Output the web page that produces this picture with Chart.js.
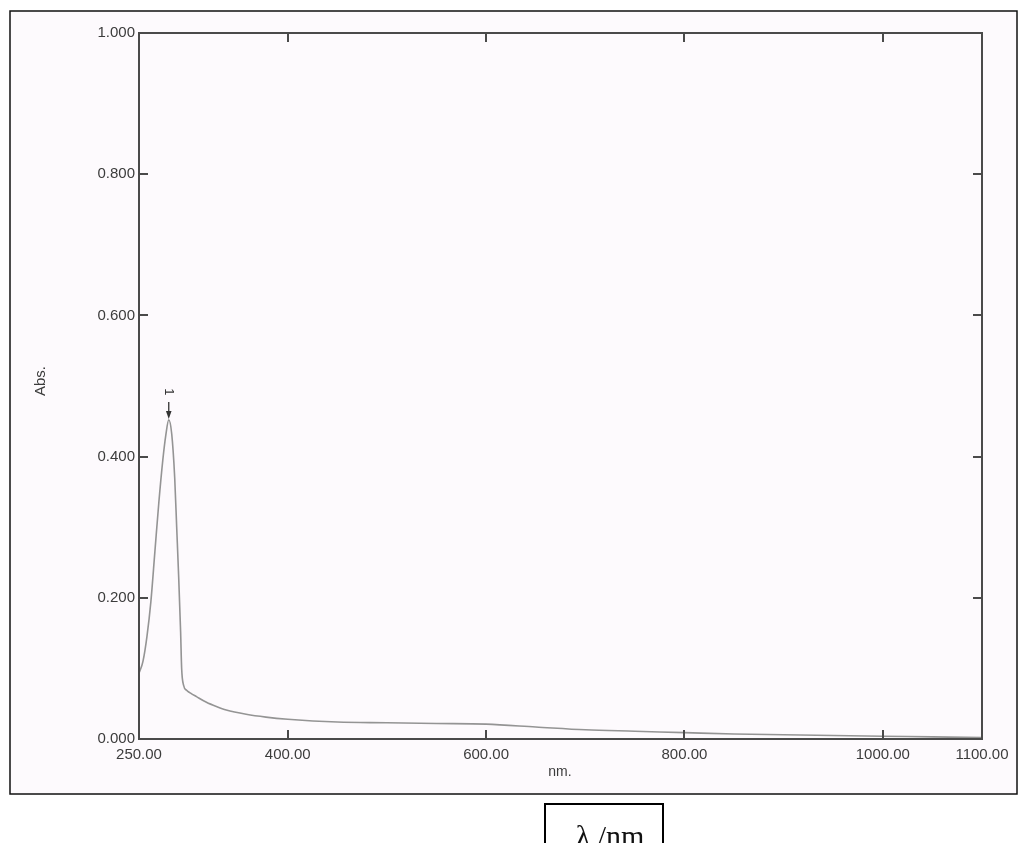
<!DOCTYPE html>
<html>
<head>
<meta charset="utf-8">
<script src="https://cdn.jsdelivr.net/npm/chart.js@4.4.1/dist/chart.umd.min.js"></script>
<style>
  html, body { margin: 0; padding: 0; background: #fff; overflow: hidden; }
  #wrap { position: relative; width: 1018px; height: 843px; }
  #spec { position: absolute; left: 0; top: 0; }
  #lambdaBox {
    position: absolute; left: 544px; top: 803px; width: 120px; height: 60px;
    border: 2px solid #000; box-sizing: border-box;
    font-family: "Liberation Serif", "DejaVu Serif", serif; font-size: 30px;
    text-align: center; line-height: 1; padding-top: 16px; padding-left: 12px; color: #111;
  }
</style>
</head>
<body>
<div id="wrap">
  <canvas id="spec" width="1018" height="843"></canvas>
  <div id="lambdaBox">λ /nm</div>
</div>
<script>
// spectrum (wavelength in nm, absorbance)
const wavelengths = [250, 254, 258, 262, 266, 270, 274, 277, 280, 283, 286, 288, 290, 292, 293, 295,
  298, 302, 308, 318, 328, 338, 358, 378, 400, 450, 500, 550, 600, 650, 700, 750,
  800, 850, 900, 950, 1000, 1050, 1100];
const absorbance = [0.093, 0.110, 0.145, 0.195, 0.265, 0.335, 0.395, 0.430, 0.452, 0.432, 0.370, 0.300, 0.230, 0.150, 0.100, 0.076,
  0.069, 0.065, 0.060, 0.052, 0.046, 0.041, 0.035, 0.031, 0.028, 0.024, 0.023, 0.022, 0.021, 0.017, 0.013, 0.011,
  0.009, 0.007, 0.006, 0.005, 0.004, 0.003, 0.002];

const xTickValues = [250, 400, 600, 800, 1000, 1100];
const xTickLabels = ['250.00', '400.00', '600.00', '800.00', '1000.00', '1100.00'];
const yTickValues = [0, 0.2, 0.4, 0.6, 0.8, 1.0];
const peakWavelength = 280;
const peakLabel = '1';

const axisColor = '#4a4a4a';
const textColor = '#3c3c3c';
const fontFamily = '"Liberation Sans", Arial, sans-serif';

// frame, box around the plot, inner ticks, peak marker and axis titles
const decorations = {
  id: 'decorations',
  beforeDraw(chart) {
    const c = chart.ctx;
    c.save();
    c.fillStyle = '#fdfafd';
    c.fillRect(10, 11, 1007, 783);
    c.strokeStyle = '#111';
    c.lineWidth = 1.5;
    c.strokeRect(10, 11, 1007, 783);
    c.restore();
  },
  afterDraw(chart) {
    const c = chart.ctx;
    const a = chart.chartArea;
    const xs = chart.scales.x, ys = chart.scales.y;
    c.save();
    c.strokeStyle = axisColor;
    c.lineWidth = 2;
    c.strokeRect(a.left, a.top, a.right - a.left, a.bottom - a.top);

    c.beginPath();
    xTickValues.slice(1, -1).forEach(v => {
      const px = Math.round(xs.getPixelForValue(v));
      c.moveTo(px, a.bottom); c.lineTo(px, a.bottom - 9);
      c.moveTo(px, a.top); c.lineTo(px, a.top + 9);
    });
    yTickValues.slice(1, -1).forEach(v => {
      const py = Math.round(ys.getPixelForValue(v));
      c.moveTo(a.left, py); c.lineTo(a.left + 9, py);
      c.moveTo(a.right, py); c.lineTo(a.right - 9, py);
    });
    c.stroke();

    // peak arrow
    const i = wavelengths.indexOf(peakWavelength);
    const px = xs.getPixelForValue(peakWavelength);
    const py = ys.getPixelForValue(absorbance[i]);
    c.strokeStyle = '#333';
    c.fillStyle = '#333';
    c.lineWidth = 1.3;
    c.beginPath();
    c.moveTo(px, py - 18); c.lineTo(px, py - 6);
    c.stroke();
    c.beginPath();
    c.moveTo(px - 2.8, py - 9); c.lineTo(px + 2.8, py - 9); c.lineTo(px, py - 1);
    c.closePath();
    c.fill();
    c.save();
    c.translate(px, py - 28);
    c.rotate(Math.PI / 2);
    c.font = '13px ' + fontFamily;
    c.textAlign = 'center';
    c.textBaseline = 'middle';
    c.fillText(peakLabel, 0, 0);
    c.restore();

    // axis titles
    c.fillStyle = textColor;
    c.textAlign = 'center';
    c.textBaseline = 'middle';
    c.font = '14px ' + fontFamily;
    c.fillText('nm.', 560, 772);
    c.font = '15px ' + fontFamily;
    c.save();
    c.translate(41, 381);
    c.rotate(-Math.PI / 2);
    c.fillText('Abs.', 0, 0);
    c.restore();
    c.restore();
  }
};

new Chart(document.getElementById('spec'), {
  type: 'line',
  data: {
    datasets: [{
      data: wavelengths.map((w, i) => ({ x: w, y: absorbance[i] })),
      borderColor: '#949494',
      borderWidth: 1.6,
      pointRadius: 0,
      fill: false,
      cubicInterpolationMode: 'monotone'
    }]
  },
  options: {
    responsive: false,
    animation: false,
    layout: { padding: { left: 0, top: 33, right: 36, bottom: 0 } },
    plugins: { legend: { display: false }, tooltip: { enabled: false } },
    scales: {
      x: {
        type: 'linear',
        min: 250,
        max: 1100,
        afterBuildTicks: scale => { scale.ticks = xTickValues.map(v => ({ value: v })); },
        afterFit: scale => { scale.height = 104; },
        ticks: {
          autoSkip: false,
          maxRotation: 0,
          padding: 7,
          color: textColor,
          font: { family: fontFamily, size: 15 },
          callback: v => xTickLabels[xTickValues.indexOf(v)]
        },
        grid: { display: false, tickLength: 0 },
        border: { display: false }
      },
      y: {
        min: 0,
        max: 1,
        afterBuildTicks: scale => { scale.ticks = yTickValues.map(v => ({ value: v })); },
        afterFit: scale => { scale.width = 139; },
        ticks: {
          padding: 4,
          color: textColor,
          font: { family: fontFamily, size: 15 },
          callback: v => v.toFixed(3)
        },
        grid: { display: false, tickLength: 0 },
        border: { display: false }
      }
    }
  },
  plugins: [decorations]
});
</script>
</body>
</html>
